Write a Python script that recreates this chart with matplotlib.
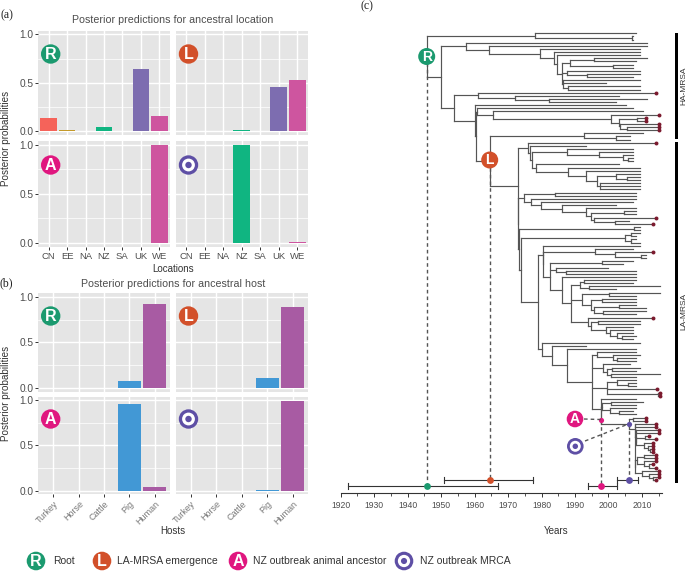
import matplotlib
matplotlib.use('Agg')
import matplotlib.pyplot as plt
from matplotlib.patches import Circle, Rectangle

plt.rcParams['font.family'] = ['Liberation Sans', 'DejaVu Sans']

W, H = 689, 571

locations = ['CN', 'EE', 'NA', 'NZ', 'SA', 'UK', 'WE']
location_colors = ['#F5635A', '#C49A2A', '#8DB840', '#10B581', '#5BBCE0', '#7D6DB0', '#CE559F']
loc_R = [0.135, 0.01, 0.005, 0.04, 0.003, 0.64, 0.16]
loc_L = [0.0, 0.002, 0.002, 0.01, 0.002, 0.455, 0.525]
loc_A = [0, 0, 0, 0, 0, 0, 1.0]
loc_O = [0, 0, 0, 1.0, 0, 0, 0.005]

hosts = ['Turkey', 'Horse', 'Cattle', 'Pig', 'Human']
host_colors = ['#999999', '#999999', '#999999', '#4298D5', '#A85BA3']
host_R = [0, 0, 0, 0.08, 0.92]
host_L = [0, 0, 0, 0.11, 0.89]
host_A = [0, 0, 0, 0.955, 0.045]
host_O = [0, 0, 0, 0.01, 0.99]

badge_colors = {'R': '#1B9A6F', 'L': '#D2502A', 'A': '#E0177F', 'O': '#5E4FA5'}

# HPD bars: low, mean, high
hpd_R = (1922.2, 1945.7, 1967.1)
hpd_L = (1951.0, 1964.5, 1977.6)
hpd_A = (1993.8, 1997.7, 2002.5)
hpd_O = (2002.7, 2006.0, 2008.9)

year_ticks = list(range(1920, 2011, 10))


def N(year, *kids, tag=None, dy=0):
    return {'year': year, 'kids': kids, 'tag': tag, 'dy': dy}


# tree, node = N(year, children...), a tip is its year, negative year = red tip
top_clade = N(1978, 2008.2, N(2007, 2007.4, 2007.4))
g = N(1986, N(1988.6, N(1995.6, 2011.4, 2008.2), N(2001.4, 2007.2, 2007.2)),
      N(1987.5, 2009.4, N(1993.5, 2009.4, 2007.4)),
      N(1986.5, 2009.4, 1999.3, N(1987.8, 2009.4, 2009.4)))
ha1 = N(1957.3, 2011.4, N(1964.2, 2011.4, N(1979.6, 2009.4, N(1983.7, 2009.4, N(1984.7, 2009.4, g)))))
p = N(1961, -2014.2, N(1972.2, 2003.2, N(1982.2, 2011.4, 2002.2)))
v = N(1965.4, 2010.2, N(2000.8, -2015.2, N(2003.2, N(2008.4, -2011.2, -2011.2),
                                            N(2003.4, -2015.2, N(2005.4, -2015.2, -2015.2)))))
t = N(1960.8, 2007.2, v)
ltop = N(1992.8, 2010.2, N(2002.4, 2006.4, 2006.4))
c1 = N(1976, -2014.2, N(1976.5, 1993.2, N(1977.3,
       N(1987.5, 2007.2, N(1997.2, 2007.2, N(2004.2, 2007.2, N(2005.9, 2007.2, 2007.2)))),
       N(1978.5, 2003.2, N(1988, 2009.4, N(1993.3, 2009.4, N(1996.5,
         N(2002.4, 2009.4, N(2005.4, 2009.4, 2009.4)), N(1997.5, 2009.4, 2009.4, 2009.4))))))))
c2 = N(1974.8, N(1984, 2008.2, 2008.2), N(1976.8, 2008.2, N(1979.8, 2007.2, N(1986, 2002.2, N(1993.2, 2008.2,
       N(1994.7, N(2004.6, 2008.2, 2008.2), N(1995.8, -2014.2, N(2002.1, 2006.2, -2013.2))))))))
dtop = N(2004.8, N(2006.7, 2009.4, 2008.2), N(2006.7, 2008.2, 2009.4))
n586 = N(1996, 2007.2, N(2002, -2013.2, N(2009.6, 2011.2, 2011.2)))
n540 = N(1991.5, N(1992.7, 2008.2, 2007.2), N(1994.3, 2015.4, 2002.2))
n545 = N(1992, N(2000.2, 2015.4, 2008.2), N(1994.7, N(1998, 2008.2, 2008.2),
         N(1995.8, N(2003.1, 2008.2, 2011.2), N(1998.5, 2011.2, 2008.2))))
n565 = N(1994, -2013.2, N(1994.8, N(1996.8, 2009.4, 2009.4), N(1999.4, 2007.2, N(2000.4, 2007.2,
         N(2002.6, 2007.2, N(2004.1, 2008.2, 2007.2))))))
n514 = N(1988.9, n540, n545, n565)
n486 = N(1986.1, 2008.2, n514)
n450 = N(1982.5, N(1998.2, 2007.2, 2004.2), N(1984.3, 1999.8, N(1987.2, 2008.2, 2008.2)), n486)
n430 = N(1980.5, 2009.4, N(1980.5, n586, n450))

A1 = N(2007.9, N(2008, -2014.2, -2014.2), N(2008.1, N(2008.3, -2015.2, -2015.2),
       N(2008.2, N(2010.8, -2012.2, -2014.2), N(2010.6, -2013.2, N(2011.8, -2013.2, N(2012.5, -2013.2, -2013.2))))))
A2 = N(2007.9, N(2008.5, N(2010.5, -2014.2, -2014.2), N(2010.7, -2014.2, N(2012, -2013.2, -2014.2))),
       N(2010, -2015.2, N(2012, -2015.2, N(2013.2, -2015.2, -2014.2))))
mrca = N(2006, N(2007.4, -2011.2, -2011.2), N(2007.8, A1, A2, dy=-6.4), tag='O')
n_anc = N(1997.7, N(1998, N(2000.7, 2010.4, 2008.2), N(2000.5, 2008.2, N(2003, 2007.4, 2008.2))), mrca, tag='A', dy=1.3)
n815 = N(1997.9, 2008.2, n_anc)
n785 = N(1995.1, N(1996.5, 2008.2, N(2001.5, 2009.4, N(2002.5, 2008.2, 2008.2))),
         N(1998.5, 2006.4, N(1999.5, N(2001, 2009.4, 2008.2), N(2000.7, 2015.4, 2008.2))),
         N(1999.7, N(2002.5, 2008.2, N(2005.7, 2008.2, 2008.2)), -2014.4, N(2014.9, -2015.4, -2015.4)),
         n815)
n714 = N(1987.5, 2008.3, n785)
n425 = N(1980, 2009.4, N(1983, 1993.2, n714))
n415 = N(1979, n430, n425)
d = N(1974, dtop, n415)
c = N(1973.3, N(2007.7, 2009.4, 2009.4), d)
b = N(1973.1, c2, c)
l2 = N(1973, c1, b)
la_node = N(1964.5, ltop, l2, tag='L')
s = N(1960, 2005.2, N(1960.4, t, la_node))
b2 = N(1954, p, s)
root = N(1945.7, top_clade, N(1950, ha1, b2), tag='R')


def px_axes(fig, left, top, right, bottom):
    return fig.add_axes([left / W, 1 - bottom / H, (right - left) / W, (bottom - top) / H])


def panel(fig, box, values, cats, colors, xlim, show_x, show_y, rotate=False):
    ax = px_axes(fig, *box)
    ax.set_facecolor('#E5E5E5')
    ax.bar(range(len(cats)), values, width=0.9, color=colors, zorder=3)
    ax.set_xlim(*xlim)
    ax.set_ylim(-0.041, 1.038)
    ax.set_yticks([0, 0.5, 1.0])
    ax.set_yticks([0.25, 0.75], minor=True)
    ax.set_xticks(range(len(cats)))
    ax.grid(True, which='major', color='white', lw=1.0, zorder=1)
    ax.grid(True, which='minor', axis='y', color='white', lw=0.5, zorder=1)
    ax.tick_params(which='minor', length=0)
    ax.tick_params(axis='both', color='#333333', length=2.2, width=0.7, labelcolor='#4D4D4D', labelsize=7.3, pad=1.5)
    for sp in ax.spines.values():
        sp.set_visible(False)
    if show_x:
        if rotate:
            ax.set_xticklabels(cats, rotation=45, ha='right', rotation_mode='anchor', fontsize=6.5, color='#777777')
        else:
            ax.set_xticklabels(cats, fontsize=6.8)
    else:
        ax.tick_params(axis='x', length=0, labelbottom=False)
    if show_y:
        ax.set_yticklabels(['0.0', '0.5', '1.0'])
    else:
        ax.tick_params(axis='y', length=0, labelleft=False)
    return ax


def layout(node, rows, segs, tips, tagged):
    if not isinstance(node, dict):
        row = rows[0]
        rows[0] += 1
        return row
    child_y = []
    for k in node['kids']:
        y = layout(k, rows, segs, tips, tagged)
        child_y.append(y)
        kx = k['year'] if isinstance(k, dict) else abs(k)
        segs.append(([node['year'], kx], [y, y]))
        if not isinstance(k, dict) and k < 0:
            tips.append((abs(k), y))
    ny = (child_y[0] + child_y[-1]) / 2 + node['dy']
    segs.append(([node['year'], node['year']], [min(child_y + [ny]), max(child_y + [ny])]))
    if node['tag']:
        tagged[node['tag']] = (node['year'], ny)
    return ny


def badge(ov, x, y, r, letter, fs=11.5):
    ov.add_patch(Circle((x, y), r, color=badge_colors[letter], lw=0, zorder=6))
    if letter == 'O':
        ov.add_patch(Circle((x, y), r * 0.66, color='white', lw=0, zorder=7))
        ov.add_patch(Circle((x, y), r * 0.33, color=badge_colors[letter], lw=0, zorder=8))
    else:
        ov.text(x, y + 0.3, letter, color='white', fontsize=fs, fontweight='bold', ha='center', va='center', zorder=7)


fig = plt.figure(figsize=(W / 100, H / 100), dpi=100)

# (a)
loc_xlim = (-0.56, 6.58)
panel(fig, (38.3, 30.7, 170, 135), loc_R, locations, location_colors, loc_xlim, False, True)
panel(fig, (175.7, 30.7, 308, 135), loc_L, locations, location_colors, loc_xlim, False, False)
panel(fig, (38.3, 141, 170, 246.7), loc_A, locations, location_colors, loc_xlim, True, True)
panel(fig, (175.7, 141, 308, 246.7), loc_O, locations, location_colors, loc_xlim, True, False)

# (b)
host_xlim = (-0.6, 4.6)
panel(fig, (38.3, 293.3, 170, 391.7), host_R, hosts, host_colors, host_xlim, False, True)
panel(fig, (175.7, 293.3, 308, 391.7), host_L, hosts, host_colors, host_xlim, False, False)
panel(fig, (38.3, 396.7, 170, 494.3), host_A, hosts, host_colors, host_xlim, True, True, True)
panel(fig, (175.7, 396.7, 308, 494.3), host_O, hosts, host_colors, host_xlim, True, False, True)

# (c) tree
rows = [0]
segs, tips, tagged = [], [], {}
layout(root, rows, segs, tips, tagged)
n = rows[0]
row_px = (480.0 - 33.3) / (n - 1)


def row_of(py):
    return (py - 33.3) / row_px


tree = px_axes(fig, 340.7, 20, 662, 492.7)
tree.patch.set_alpha(0)
tree.set_xlim(1920, 1920 + (662 - 340.7) / 3.347)
tree.set_ylim(row_of(492.7), row_of(20))
for xs, ys in segs:
    tree.plot(xs, ys, color='#555555', lw=0.85, solid_capstyle='projecting', zorder=2)
tree.scatter([a for a, _ in tips], [b for _, b in tips], s=8, color='#7B1A2E', lw=0, zorder=4)

for hpd, py, col in [(hpd_R, 486.3, 'R'), (hpd_L, 480.3, 'L'), (hpd_A, 486.3, 'A'), (hpd_O, 480.3, 'O')]:
    y = row_of(py)
    tree.plot([hpd[0], hpd[2]], [y, y], color='#333333', lw=0.8, zorder=3)
    tree.plot([hpd[0], hpd[0]], [y - 1, y + 1], color='#333333', lw=0.8, zorder=3)
    tree.plot([hpd[2], hpd[2]], [y - 1, y + 1], color='#333333', lw=0.8, zorder=3)
    tree.scatter([hpd[1]], [y], s=24, color=badge_colors[col], lw=0, zorder=5)
    tree.plot([hpd[1], hpd[1]], [tagged[col][1], y], color='#555555', lw=1.0, ls=(0, (2.6, 2.2)), zorder=3)

for col in 'AO':
    tree.scatter([tagged[col][0]], [tagged[col][1]], s=14, color=badge_colors[col], lw=0, zorder=5)

for side in ['top', 'left', 'right']:
    tree.spines[side].set_visible(False)
tree.spines['bottom'].set_color('#333333')
tree.spines['bottom'].set_linewidth(0.8)
tree.set_yticks([])
tree.set_xticks(year_ticks)
tree.set_xticks(range(1925, 2016, 10), minor=True)
tree.tick_params(axis='x', which='major', length=3, width=0.7, color='#333333', labelsize=6.2, labelcolor='#4D4D4D', pad=3)
tree.tick_params(axis='x', which='minor', length=2, width=0.6, color='#333333')

# overlay in reference pixels: badges, labels, clade bars
ov = fig.add_axes([0, 0, 1, 1], zorder=20)
ov.set_xlim(0, W)
ov.set_ylim(H, 0)
ov.axis('off')

badge(ov, 50.7, 54, 9.7, 'R')
badge(ov, 188.5, 54, 9.7, 'L')
badge(ov, 50.7, 165, 9.7, 'A')
badge(ov, 188.5, 165, 9.7, 'O')
badge(ov, 50.7, 316, 9.7, 'R')
badge(ov, 188.5, 316, 9.7, 'L')
badge(ov, 50.7, 419, 9.7, 'A')
badge(ov, 188.5, 419, 9.7, 'O')
badge(ov, 426.7, 56.5, 8.5, 'R', 10)
badge(ov, 489.7, 160, 8.5, 'L', 10)
badge(ov, 575, 419, 8.3, 'A', 10)
badge(ov, 575.3, 446.3, 8.3, 'O', 10)

# dashed leaders from the A and O badges to their nodes
ax_x = lambda yr: 340.7 + (yr - 1920) * 3.347
ax_y = lambda r: 33.3 + r * row_px
ov.plot([584, ax_x(tagged['A'][0])], [419, ax_y(tagged['A'][1])], color='#555555', lw=1.0, ls=(0, (2.6, 2.2)))
ov.plot([585, ax_x(tagged['O'][0])], [441, ax_y(tagged['O'][1])], color='#555555', lw=1.0, ls=(0, (2.6, 2.2)))

txt = dict(color='#4D4D4D', ha='center', va='center')
ov.text(173, 20.3, 'Posterior predictions for ancestral location', fontsize=7.65, **txt)
ov.text(173, 284, 'Posterior predictions for ancestral host', fontsize=7.65, **txt)
ov.text(173, 269.5, 'Locations', fontsize=7, color='#333333', ha='center', va='center')
ov.text(173, 531, 'Hosts', fontsize=7, color='#333333', ha='center', va='center')
ov.text(555.7, 531, 'Years', fontsize=7, color='#333333', ha='center', va='center')
ov.text(6, 138, 'Posterior probabilities', fontsize=7.1, rotation=90, color='#333333', ha='center', va='center')
ov.text(6, 393, 'Posterior probabilities', fontsize=7.1, rotation=90, color='#333333', ha='center', va='center')

for s_, x, y in [('(a)', 6.5, 15), ('(b)', 6.5, 283), ('(c)', 367, 6)]:
    ov.text(x, y, s_, fontsize=8.5, family='Liberation Serif', color='#222222', ha='center', va='center')

ov.add_patch(Rectangle((675.2, 33), 2.4, 105.7, color='black', lw=0))
ov.add_patch(Rectangle((675.2, 142), 2.4, 341.3, color='black', lw=0))
ov.text(683.5, 86, 'HA-MRSA', fontsize=6, rotation=90, color='#333333', ha='center', va='center')
ov.text(683.5, 311, 'LA-MRSA', fontsize=6, rotation=90, color='#333333', ha='center', va='center')

# legend
for letter, x, tx, label in [('R', 36, 53, 'Root'), ('L', 102, 117, 'LA-MRSA emergence'),
                             ('A', 238, 253, 'NZ outbreak animal ancestor'), ('O', 404, 420, 'NZ outbreak MRCA')]:
    badge(ov, x, 561, 9.3, letter)
    ov.text(tx, 561, label, fontsize=7.45, color='#333333', ha='left', va='center')

fig.savefig('out.png', dpi=100)
